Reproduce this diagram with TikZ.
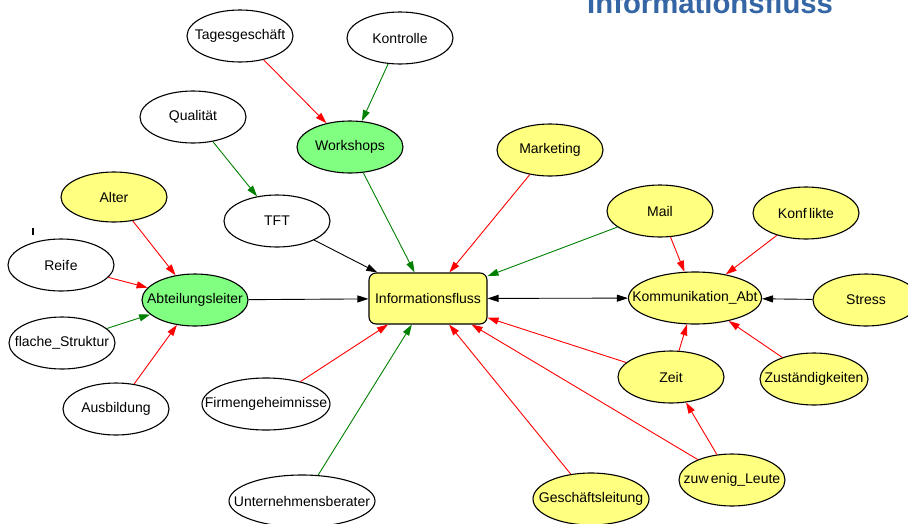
\documentclass[tikz,border=0pt]{standalone}
\usepackage{fontspec}
\setmainfont{Liberation Sans}
\usetikzlibrary{shapes.geometric,arrows.meta}
\definecolor{nodeyellow}{RGB}{255,255,128}
\definecolor{nodegreen}{RGB}{128,255,128}
\definecolor{edgered}{RGB}{255,0,0}
\definecolor{edgegreen}{RGB}{0,128,0}
\definecolor{titleblue}{RGB}{52,101,164}
\tikzset{
  base/.style={draw=black, line width=1.1pt, font=\fontsize{14}{16}\selectfont, inner sep=0pt},
  ell/.style={base, ellipse, minimum width=106pt, minimum height=52pt},
  whiteell/.style={ell, fill=white},
  yellowell/.style={ell, fill=nodeyellow},
  greenell/.style={ell, fill=nodegreen},
  infobox/.style={base, rectangle, rounded corners=7pt, fill=nodeyellow, minimum width=118pt, minimum height=51pt},
  tip/.tip={Triangle[length=11pt,width=7pt]},
  arr/.style={line width=0.9pt, -tip},
  redarr/.style={arr, draw=edgered},
  greenarr/.style={arr, draw=edgegreen},
  blackarr/.style={arr, draw=black},
}
\newcommand{\Z}[1]{\makebox[0pt]{\raisebox{-1pt}{#1}}}
\begin{document}
\begin{tikzpicture}[x=1pt,y=-1pt]
\useasboundingbox (0,0) rectangle (908,523);
\clip (0,0) rectangle (908,523);
% title
\node[anchor=base west, inner sep=0pt, text=titleblue, font=\fontsize{29.3}{32}\bfseries\selectfont] (title) at (587,13) {Informationsfluss};
% stray mark
\draw[line width=1.6pt] (33,228) -- (33,235);
% nodes
\node[whiteell] (tages) at (240,36) {\Z{Tagesgeschäft}};
\node[whiteell] (kontrolle) at (400,38) {\Z{Kontrolle}};
\node[whiteell] (qual) at (193,117) {\Z{Qualität}};
\node[greenell] (work) at (350,147) {\Z{Workshops}};
\node[yellowell] (market) at (550,150) {\Z{Marketing}};
\node[whiteell] (tft) at (277,221) {\Z{TFT}};
\node[yellowell, minimum height=50pt] (alter) at (114,197) {\Z{Alter}};
\node[whiteell] (reife) at (61,265) {\Z{Reif\kern0.8pt e}};
\node[greenell] (abt) at (195,300) {\Z{Abteilungsleiter}};
\node[whiteell] (flache) at (62,343) {\Z{flache\_Struktur}};
\node[whiteell] (ausb) at (116,409) {\Z{Ausbildung}};
\node[whiteell, minimum width=128pt] (firm) at (266,404) {\Z{Firmengeheimnisse}};
\node[whiteell, minimum width=146pt] (unter) at (302,501) {\Z{Unternehmensberater}};
\node[infobox] (info) at (428,298.5) {\Z{Informationsfluss}};
\node[yellowell, minimum width=133pt] (komm) at (695,298) {\Z{Kommunikation\_Abt}};
\node[yellowell] (mail) at (660,211) {\Z{Mail}};
\node[yellowell] (konf) at (806,213) {\Z{Konf\,likte}};
\node[yellowell] (stress) at (866,300) {\Z{Stress}};
\node[yellowell] (zeit) at (671,377) {\Z{Zeit}};
\node[yellowell, minimum width=108pt] (zust) at (814,379) {\Z{Zuständigkeiten}};
\node[yellowell] (zuw) at (732,480) {\Z{zuw\,enig\_Leute}};
\node[yellowell, minimum width=116pt] (gesch) at (591,499) {\Z{Geschäftsleitung}};
% connectors
\draw[redarr] (tages) -- (work);
\draw[greenarr] (kontrolle) -- (work);
\draw[greenarr] (qual) -- (tft);
\draw[greenarr] (work) -- (info);
\draw[redarr] (market) -- (info);
\draw[blackarr] (tft) -- (info);
\draw[greenarr] (mail) -- (info);
\draw[redarr] (mail) -- (komm);
\draw[redarr] (konf) -- (komm);
\draw[blackarr] (stress) -- (komm);
\draw[line width=0.9pt, tip-tip] (info) -- (komm);
\draw[redarr] (alter) -- (abt);
\draw[redarr] (reife) -- (abt);
\draw[greenarr] (flache) -- (abt);
\draw[redarr] (ausb) -- (abt);
\draw[blackarr] (abt) -- (info);
\draw[redarr] (firm) -- (info);
\draw[greenarr] (unter) -- (info);
\draw[redarr] (gesch) -- (info);
\draw[redarr] (zuw) -- (info);
\draw[redarr] (zuw) -- (zeit);
\draw[redarr] (zeit) -- (info);
\draw[redarr] (zeit) -- (komm);
\draw[redarr] (zust) -- (komm);
\end{tikzpicture}
\end{document}
